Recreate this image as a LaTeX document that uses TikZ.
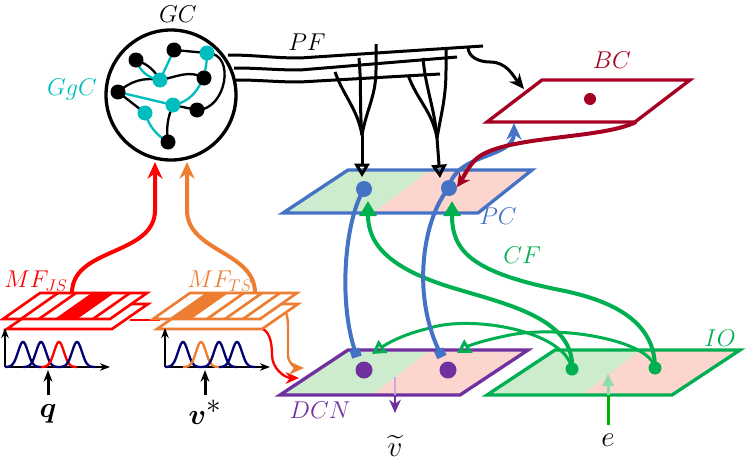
\documentclass[tikz,border=0pt]{standalone}
\usepackage{amsmath}
\usetikzlibrary{arrows.meta}
\definecolor{gcyan}{RGB}{0,190,190}
\definecolor{bcred}{RGB}{165,0,33}
\definecolor{pcblue}{RGB}{68,114,196}
\definecolor{dcnpurple}{RGB}{112,48,160}
\definecolor{iogreen}{RGB}{0,176,80}
\definecolor{mforange}{RGB}{237,125,49}
\definecolor{mfnavy}{RGB}{0,0,110}
\definecolor{lgreen}{RGB}{205,235,205}
\definecolor{lpink}{RGB}{252,213,206}
\tikzset{
  fiber/.style={line width=0.9mm},
  cellline/.style={line width=0.7mm},
  plate/.style={line width=1mm},
  conn/.style={line width=1.2mm},
  lbl/.style={font=\fontsize{21}{24}\selectfont},
  big/.style={font=\fontsize{34}{38}\selectfont},
}
\begin{document}
\begin{tikzpicture}[x=0.3mm,y=-0.3mm]
\useasboundingbox (0,0) rectangle (748,463);

% Marking golgi cell cluster GC
\draw [line width=1mm] (171,95) circle (65);
\node [lbl] (gclbl) at (178,14) {$GC$};
\node [lbl,text=gcyan] (ggclbl) at (72,90) {$GgC$};
\coordinate (g1) at (136,60);
\coordinate (g2) at (174,50);
\coordinate (g3) at (204,78);
\coordinate (g4) at (118,92);
\coordinate (g5) at (197,110);
\coordinate (g6) at (168,142);
\coordinate (c1) at (207,53);
\coordinate (c2) at (160,80);
\coordinate (c3) at (173,105);
\coordinate (c4) at (145,113);
\draw [cellline] (g1) to[bend left=20] (c2);
\draw [cellline] (g2) -- (c1);
\draw [cellline] (c1) to[out=0,in=0,looseness=1.3] (g5);
\draw [cellline] (g4) to[out=40,in=170] (c2) to[out=10,in=150] (g3);
\draw [cellline] (g4) -- (c4);
\draw [cellline] (c3) to[bend right=15] (g6);
\draw [cellline] (c3) -- (g5);
\draw [cellline,gcyan] (g1) to[bend right=30] (c2);
\draw [cellline,gcyan] (g2) -- (c2);
\draw [cellline,gcyan] (g4) -- (c3);
\draw [cellline,gcyan] (c1) to[out=-90,in=10] (c3);
\draw [cellline,gcyan] (c4) to[bend right=20] (g6);
\foreach \n in {g1,g2,g3,g4,g5,g6} \fill (\n) circle (7.5);
\foreach \n in {c1,c2,c3,c4} \fill [gcyan] (\n) circle (7.5);

% Drawing parallel fibers PF
\node [lbl] (pflbl) at (307,42) {$PF$};
\draw [fiber] (228,55) to[out=0,in=180] (300,58) -- (483,46);
\draw [fiber] (234,68) to[out=0,in=180] (300,70) -- (457,57);
\draw [fiber] (236,80) to[out=0,in=180] (300,82) -- (440,74);

% Drawing purkinje dendrites
\coordinate (pd1) at (362,135);
\coordinate (pd2) at (437,138);
\draw [fiber] (376,44) -- (376,70) to[out=-90,in=80] (pd1);
\draw [fiber] (335,72) to[out=-70,in=100] (pd1);
\draw [fiber] (359,58) to[out=-85,in=95] (pd1);
\draw [fiber] (446,48) -- (446,70) to[out=-90,in=80] (pd2);
\draw [fiber] (408,75) to[out=-70,in=100] (pd2);
\draw [fiber] (423,58) to[out=-85,in=95] (pd2);

% Drawing basket cell BC
\draw [plate,bcred,fill=white] (487,122) -- (635,122) -- (690,80) -- (542,80) -- cycle;
\node [lbl,text=bcred] (bclbl) at (612,60) {$BC$};
\coordinate (bc) at (590,99);
\fill [bcred] (bc) circle (6);
\draw [fiber,-{Stealth[length=4.5mm,width=4mm]}] (468,47) to[out=-90,in=180] (490,62) to[out=0,in=130] (524,89);

% Drawing purkinje cells PC
\fill [lpink] (283,213) -- (478,213) -- (532,170) -- (348,170) -- cycle;
\fill [lgreen] (283,213) -- (373,213) -- (430,170) -- (348,170) -- cycle;
\draw [plate,pcblue] (283,213) -- (478,213) -- (532,170) -- (348,170) -- cycle;
\node [lbl,text=pcblue] (pclbl) at (498,216) {$PC$};
\coordinate (pc1) at (364,189);
\coordinate (pc2) at (449,188);
\draw [fiber,-{Triangle[open,length=4mm,width=4.5mm]}] (pd1) -- (362,177);
\draw [fiber,-{Triangle[open,length=4mm,width=4.5mm]}] (pd2) -- (440,178);

% Drawing deep cerebellar nuclei DCN
\fill [lpink] (280,395) -- (460,395) -- (528,350) -- (348,350) -- cycle;
\fill [lgreen] (280,395) -- (372,395) -- (430,350) -- (348,350) -- cycle;
\draw [plate,dcnpurple] (280,395) -- (460,395) -- (528,350) -- (348,350) -- cycle;
\node [lbl,text=dcnpurple] (dcnlbl) at (320,410) {$DCN$};
\coordinate (dcn1) at (364,370);
\coordinate (dcn2) at (448,370);
\draw [line width=0.8mm,dcnpurple!40] (395,377) -- (395,395);
\draw [line width=0.8mm,dcnpurple,-{Stealth[length=4mm,width=3.5mm]}] (395,395) -- (395,413);
\node [big,inner sep=0pt] (vout) at (395,446) {$\widetilde{v}$};

% Drawing inferior olive IO
\fill [lpink] (487,395) -- (672,395) -- (740,350) -- (555,350) -- cycle;
\fill [lgreen] (487,395) -- (582,395) -- (640,350) -- (555,350) -- cycle;
\draw [plate,iogreen] (487,395) -- (672,395) -- (740,350) -- (555,350) -- cycle;
\node [lbl,text=iogreen] (iolbl) at (720,338) {$IO$};
\coordinate (io1) at (572,369);
\coordinate (io2) at (655,368);
\draw [line width=0.9mm,iogreen!45] (608,395) -- (608,380);
\draw [line width=0.9mm,green!70!black] (608,425) -- (608,395);
\fill [iogreen!45] (608,374) -- (602,386) -- (614,386) -- cycle;
\node [big] (eout) at (608,440) {$e$};

% Drawing climbing fibers CF
\node [lbl,text=iogreen] (cflbl) at (522,255) {$CF$};
\draw [conn,iogreen,-{Triangle[length=4.5mm,width=5mm]}] (io1) .. controls (575,320) and (510,305) .. (460,290) .. controls (390,270) and (368,245) .. (368,201);
\draw [conn,iogreen,-{Triangle[length=4.5mm,width=5mm]}] (io2) .. controls (655,320) and (610,300) .. (560,290) .. controls (470,272) and (452,250) .. (452,201);
\draw [line width=0.9mm,iogreen,-{Triangle[open,length=4mm,width=4.5mm]}] (io1) .. controls (565,330) and (470,315) .. (430,328) .. controls (400,335) and (385,345) .. (372,354);
\draw [line width=0.9mm,iogreen,-{Triangle[open,length=4mm,width=4.5mm]}] (io2) .. controls (650,340) and (560,325) .. (510,335) .. controls (485,340) and (470,345) .. (457,353);

% Drawing PC outputs
\draw [conn,pcblue,-{Square[length=2.5mm,width=3mm]}] (pc1) .. controls (345,220) and (338,300) .. (357,357);
\draw [conn,pcblue,-{Square[length=2.5mm,width=3mm]}] (pc2) .. controls (425,215) and (410,290) .. (442,357);
\draw [conn,pcblue,-{Stealth[length=5mm,width=4.5mm]}] (pc2) to[out=80,in=-90] (514,123);
\draw [conn,bcred,-{Stealth[length=4mm,width=4mm]}] (636,122) .. controls (600,140) and (500,135) .. (475,160) .. controls (466,170) and (462,180) .. (457,187);
\fill [pcblue] (pc1) circle (8);
\fill [pcblue] (pc2) circle (8);
\fill [dcnpurple] (dcn1) circle (8.5);
\fill [dcnpurple] (dcn2) circle (8.5);
\fill [iogreen] (io1) circle (6.5);
\fill [iogreen] (io2) circle (6.5);

% Drawing mossy fibers MF
\draw [conn,red,-{Stealth[length=5mm,width=4.5mm]}] (72,293) to[out=90,in=-90] (155,210) -- (155,162);
\draw [conn,mforange,-{Stealth[length=5mm,width=4.5mm]}] (255,293) to[out=90,in=-90] (187,210) -- (187,162);
\draw [cellline,red] (130,320) -- (160,320);
\draw [cellline,red,-{Stealth[length=4mm,width=3.5mm]}] (258,328) to[out=0,in=90] (272,355) to[out=-90,in=180] (299,378);
\draw [cellline,mforange,-{Stealth[length=4.5mm,width=4mm]}] (277,306) to[out=0,in=90] (288,335) -- (288,355) to[out=-90,in=180] (304,368);
\foreach \c/\x in {red/0,mforange/150} {
  \begin{scope}[xshift=\x*0.3mm,line width=0.8mm]
  \draw [\c,fill=white] (7,329) -- (112,329) -- (148,304) -- (43,304) -- cycle;
  \draw [\c,fill=white] (3,319) -- (110,319) -- (147,293) -- (40,293) -- cycle;
  \foreach \s in {18,36,54,72,90} \draw [\c] (3+\s,319) -- (40+\s,293);
  \end{scope}
}
\fill [red] (57,319) -- (75,319) -- (112,293) -- (94,293) -- cycle;
\fill [mforange] (171,319) -- (189,319) -- (226,293) -- (208,293) -- cycle;
\node [lbl,text=red] (mfjs) at (36,281) {$MF_{JS}$};
\node [lbl,text=mforange] (mfts) at (220,281) {$MF_{TS}$};

% Drawing receptive fields
\foreach \x/\hl/\c in {0/3/red,160/2/mforange} {
  \begin{scope}[xshift=\x*0.3mm]
  \draw [line width=0.6mm,-{Stealth[length=3mm]}] (5,367) -- (5,328);
  \draw [line width=0.6mm,-{Stealth[length=3mm]}] (5,367) -- (110,367);
  \foreach \k in {1,2,3,4} {
    \pgfmathsetmacro\cx{5+18*\k}
    \ifnum\k=\hl \def\cc{\c}\else\def\cc{mfnavy}\fi
    \draw [line width=0.7mm,\cc] plot[domain=\cx-18:\cx+18,samples=40,smooth] (\x,{367-25*exp(-((\x-\cx)/7)^2)});
  }
  \end{scope}
}
\draw [line width=0.9mm,-{Stealth[length=3.5mm]}] (48,395) -- (48,370);
\draw [line width=0.9mm,-{Stealth[length=3.5mm]}] (205,395) -- (205,370);
\node [big] (qin) at (48,414) {$\boldsymbol{q}$};
\node [big] (vin) at (205,412) {$\boldsymbol{v}^*$};
\end{tikzpicture}
\end{document}
